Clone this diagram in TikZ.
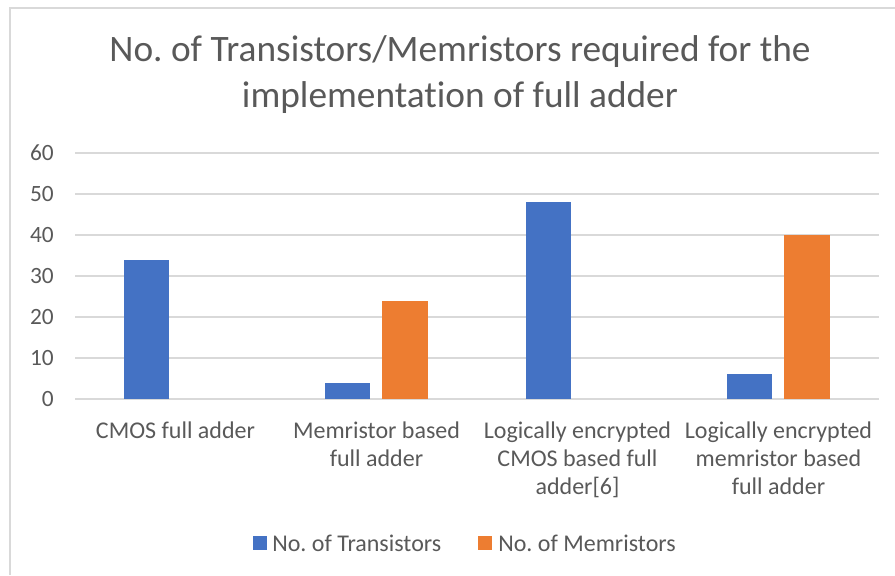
\documentclass[tikz,border=0pt]{standalone}
\usepackage{fontspec}
\setmainfont{Carlito}[Ligatures=NoCommon]
\frenchspacing
\definecolor{transblue}{HTML}{4472C4}
\definecolor{memorange}{HTML}{ED7D31}
\definecolor{gridgrey}{HTML}{D9D9D9}
\definecolor{textgrey}{HTML}{595959}
\pgfmathsetmacro{\chartbase}{176}
\pgfmathsetmacro{\chartunit}{4.1}
\pgfmathsetmacro{\catwidth}{201}
\pgfmathsetmacro{\chartleft}{75}
\pgfmathsetmacro{\chartright}{879}

\begin{document}
\begin{tikzpicture}[x=0.75pt, y=0.75pt,
    gridline/.style={gridgrey, line width=1.6},
    ticklabel/.style={text=textgrey, font=\fontsize{17.5}{21}\selectfont, anchor=east, inner sep=0},
    catlabel/.style={text=textgrey, font=\fontsize{18}{21}\selectfont, align=center, anchor=north, inner sep=0},
    legkey/.style={minimum size=10pt, inner sep=0},
    legtext/.style={text=textgrey, font=\fontsize{18}{21}\selectfont, anchor=west, inner sep=0}]
    \useasboundingbox (0,0) rectangle (895,575);
    % frame of the chart area
    \draw[gridline] (10,0) -- (10,567) -- (895,567);
    % title
    \node[text=textgrey, font=\fontsize{28}{34.5}\selectfont, align=center] (title) at (460,500)
        {No. of Transistors/Memristors required for the\\implementation of full adder};
    % gridlines and value axis
    \foreach \k in {0,...,6} {
        \draw[gridline] (\chartleft,\chartbase+41*\k) -- (\chartright,\chartbase+41*\k);
        \node[ticklabel] (tick\k) at (54,\chartbase+41*\k) {\the\numexpr\k*10\relax};
    }
    % bars: category / transistors / memristors
    \foreach \i/\nt/\nm in {0/34/0, 1/4/24, 2/48/0, 3/6/40} {
        \pgfmathsetmacro{\cx}{\chartleft+\catwidth*(\i+0.5)}
        \ifnum\nt>0
            \fill[transblue] (\cx-51.5,\chartbase) rectangle (\cx-6.5,\chartbase+\chartunit*\nt);
        \fi
        \ifnum\nm>0
            \fill[memorange] (\cx+5.5,\chartbase) rectangle (\cx+51.5,\chartbase+\chartunit*\nm);
        \fi
    }
    % category labels
    \node[catlabel] (cat0) at (175.5,153) {CMOS full adder};
    \node[catlabel] (cat1) at (376.5,153) {Memristor based\\full adder};
    \node[catlabel] (cat2) at (577.5,153) {Logically encrypted\\CMOS based full\\adder[6]};
    \node[catlabel] (cat3) at (778.5,153) {Logically encrypted\\memristor based\\full adder};
    % legend
    \node[legkey, fill=transblue] (keytrans) at (260,32) {};
    \node[legtext] (legtrans) at (272,32) {No. of Transistors};
    \node[legkey, fill=memorange] (keymem) at (485,32) {};
    \node[legtext] (legmem) at (498,32) {No. of Memristors};
\end{tikzpicture}
\end{document}
